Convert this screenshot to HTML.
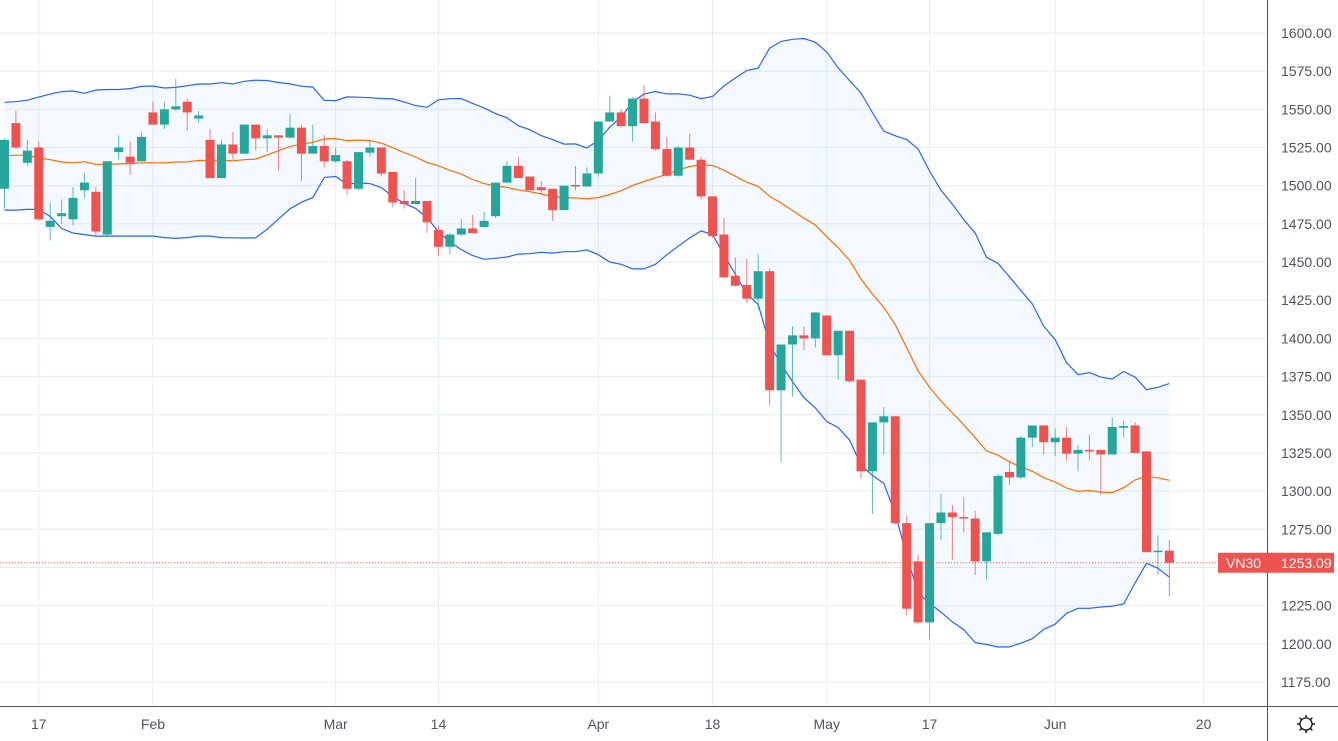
<!DOCTYPE html>
<html><head><meta charset="utf-8"><style>
html,body{margin:0;padding:0;background:#fff;}
svg{display:block;font-family:"Liberation Sans",sans-serif;}
</style></head><body>
<svg id="chart" width="1338" height="741" viewBox="0 0 1338 741">
<defs><clipPath id="plotclip"><rect x="0" y="0" width="1267" height="706"/></clipPath></defs>
<g id="grid"></g>
<g id="bands" clip-path="url(#plotclip)"></g>
<g id="candles" clip-path="url(#plotclip)"></g>
<g id="yaxis"></g>
<g id="xaxis"></g>
</svg>
<script>
const opens=[1498,1541,1515,1525,1473,1480,1478,1497,1496,1468,1522,1519,1516,1548,1540,1550,1555,1544,1530,1505,1527,1521,1540,1531,1533,1531.5,1538,1521,1526,1516,1516,1498,1521.6,1525,1509,1490,1488,1490,1471,1460,1468,1472,1473,1480,1502,1513,1506,1499,1498,1484,1500.5,1499.5,1508,1542,1548,1539,1557,1542,1524,1506.5,1525,1517,1493,1468,1441,1435,1426,1444,1366,1396,1402,1400,1415,1389,1405,1373,1313,1345,1349,1279,1254,1214,1279,1286,1283,1282,1254,1272,1312.5,1309,1335,1343,1332,1335,1324.5,1327,1327,1324,1341.5,1343,1326,1260,1261];
const closes=[1530,1525,1523,1478,1477,1482,1492,1502,1470,1516,1525,1515,1532,1540,1550,1552,1548,1546,1505,1527,1521,1540,1531,1533,1531.5,1538,1521,1526,1516,1520,1498,1522,1525,1508,1489,1488,1490,1476,1460,1468,1472,1469,1477,1502,1513,1505,1497,1497,1484,1500,1499.5,1508,1542,1548,1539,1557,1541,1524,1506.5,1525,1517,1493,1467,1440,1434.5,1426,1444,1366,1396,1402,1400,1417,1389,1405,1372,1313,1345,1349,1279,1223,1214,1279,1286,1283,1282,1254,1273,1310,1309,1335,1343,1332,1335,1324.5,1327,1326,1324,1342,1342.6,1325,1260,1261,1253.09];
const highs=[1531,1549,1530,1529,1489,1491,1499,1508,1499,1516,1533,1529,1535,1555,1555,1570,1557,1549,1537,1530,1535,1540,1540,1537,1533,1547,1540,1540,1533,1525,1517,1522,1530,1525,1509,1497,1505,1490,1474,1469,1478,1481,1483,1502,1516,1519,1506,1503,1498,1500,1513,1512,1542,1559,1550,1558,1566,1548,1532,1526,1534,1519,1493,1479,1453,1452,1455,1446,1396,1408,1408,1417,1415,1405,1405,1373,1345,1355,1349,1284,1258,1279,1298,1291,1296,1287,1273,1311,1319,1336,1343,1343,1341,1342,1330,1337,1327,1348,1346,1345,1326,1271,1268];
const lows=[1485,1524,1513,1477,1464,1475,1474,1492,1467,1467,1517,1507,1516,1540,1537,1549,1536,1541,1505,1505,1517,1521,1523,1522,1510,1531,1503,1521,1512,1515,1494,1497,1519,1506,1486,1485,1488,1469,1454,1455,1467,1469,1473,1479,1502,1505,1497,1494,1477,1484,1497,1499,1506,1542,1538,1529,1541,1523,1506,1506,1517,1491,1466,1440,1434,1423,1419,1356,1319,1362,1392,1394,1389,1373,1371,1308,1285,1324,1278,1219,1213,1203,1268,1255,1273,1245,1242,1271,1304,1308,1329,1324,1323,1320,1313,1320,1298,1324,1335,1325,1260,1245,1231];
// Bollinger values read for the first 19 candles (history before the visible range)
const upperStart=[1554.6,1555,1556,1558,1560,1561.6,1562,1560.5,1562.7,1563,1563,1563.6,1565,1565.3,1564,1564.4,1565.5,1566.6,1566.6];
const midStart=[1519.5,1520,1520,1518.3,1517,1515.5,1515,1515.7,1514,1514,1514.3,1514.5,1515,1515,1515,1515.5,1515.6,1516.5,1516.6];
const lowerStart=[1484,1484,1484.5,1484.5,1479.8,1472,1469,1468,1467,1467,1467,1467,1467,1467,1466,1465.5,1466,1467,1467];
const priceTicks=[1625,1600,1575,1550,1525,1500,1475,1450,1425,1400,1375,1350,1325,1300,1275,1250,1225,1200,1175];
const dateIdx=[3,13,29,38,52,62,72,81,92,105];
const dateLabels=["17","Feb","Mar","14","Apr","18","May","17","Jun","20"];
const lastLabel="VN30";

const NS="http://www.w3.org/2000/svg";
const X=i=>4.5+i*11.42;
const Y=p=>33+(1600-p)*1.527;
function mk(tag,attrs,parent){const e=document.createElementNS(NS,tag);for(const k in attrs)e.setAttribute(k,attrs[k]);parent.appendChild(e);return e;}
const grid=document.getElementById('grid'),bands=document.getElementById('bands'),cg=document.getElementById('candles'),ya=document.getElementById('yaxis'),xa=document.getElementById('xaxis');

priceTicks.forEach(p=>{
  const l=mk('line',{x1:0,x2:1267,y1:Y(p),y2:Y(p),stroke:'#e6edf3','stroke-width':1},grid);
  
  
  const t=mk('text',{x:1281,y:Y(p)+5,'font-size':14,fill:'#50535e'},ya);
  t.textContent=p.toFixed(2);
  
  
});
dateIdx.forEach((d,k)=>{
  const l=mk('line',{x1:X(d),x2:X(d),y1:0,y2:706,stroke:'#e6edf3','stroke-width':1},grid);
  
  
  const t=mk('text',{x:X(d),y:729,'font-size':14,fill:'#50535e','text-anchor':'middle'},xa);
  t.textContent=dateLabels[k];
  
  
});

// bands
const N=closes.length,up=[],mid=[],lo=[];
for(let i=0;i<N;i++){
  if(i<19){up.push(upperStart[i]);mid.push(midStart[i]);lo.push(lowerStart[i]);continue;}
  const s=closes.slice(i-19,i+1),m=s.reduce((a,b)=>a+b,0)/20;
  const sd=Math.sqrt(s.reduce((a,b)=>a+(b-m)*(b-m),0)/20);
  up.push(m+2*sd);mid.push(m);lo.push(m-2*sd);
}
const pts=a=>a.map((v,i)=>X(i).toFixed(1)+','+Y(v).toFixed(1));
const fill=mk('polygon',{points:pts(up).concat(pts(lo).reverse()).join(' '),fill:'rgba(33,150,243,0.055)'},bands);


const ul=mk('polyline',{points:pts(up).join(' '),fill:'none',stroke:'#2962ff','stroke-width':1.2},bands);


const ll=mk('polyline',{points:pts(lo).join(' '),fill:'none',stroke:'#2962ff','stroke-width':1.2},bands);


const ml=mk('polyline',{points:pts(mid).join(' '),fill:'none',stroke:'#ff6d00','stroke-width':1.2},bands);



for(let i=0;i<N;i++){
  const o=opens[i],c=closes[i],upc=c>=o,col=upc?'#26a69a':'#ef5350';
  const g=mk('g',{},cg);
  
  
  mk('line',{x1:X(i),x2:X(i),y1:Y(highs[i]),y2:Y(lows[i]),stroke:col,'stroke-width':1,opacity:0.75},g);
  const top=Y(Math.max(o,c)),h=Math.max(1.5,Y(Math.min(o,c))-top);
  mk('rect',{x:X(i)-4.5,y:top,width:9,height:h,fill:col},g);
}

// last price line & labels
const lp=closes[N-1],ly=Y(lp);
const dl=mk('line',{x1:0,x2:1267,y1:ly,y2:ly,stroke:'#ef5350','stroke-width':1,'stroke-dasharray':'1,2'},cg);


mk('line',{x1:1267.5,x2:1267.5,y1:0,y2:741,stroke:'#50535e','stroke-width':1},ya);
mk('line',{x1:0,x2:1338,y1:706.5,y2:706.5,stroke:'#50535e','stroke-width':1},ya);
const lb=mk('rect',{x:1218,y:ly-10,width:116,height:20,fill:'#ef5350'},ya);


const t1=mk('text',{x:1226,y:ly+5.5,'font-size':14,fill:'#fff'},ya);t1.textContent=lastLabel;


const t2=mk('text',{x:1281,y:ly+5.5,'font-size':14,fill:'#fff'},ya);t2.textContent=lp.toFixed(2);


// gear
const gear=mk('g',{transform:'translate(1306,724)'},xa);


mk('circle',{cx:0,cy:0,r:6,fill:'none',stroke:'#131722','stroke-width':1.3},gear);
for(let a=0;a<8;a++){const r=a*Math.PI/4;mk('line',{x1:6*Math.cos(r),y1:6*Math.sin(r),x2:9*Math.cos(r),y2:9*Math.sin(r),stroke:'#131722','stroke-width':1.5},gear);}
</script>
</body></html>
